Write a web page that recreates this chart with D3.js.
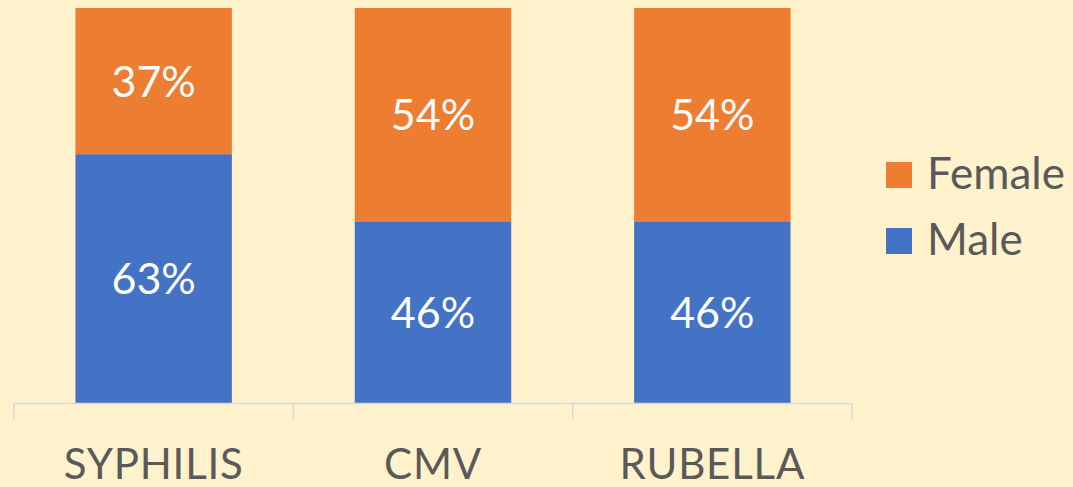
<!DOCTYPE html>
<html>
<head>
<meta charset="utf-8">
<script src="https://cdn.jsdelivr.net/npm/d3@7"></script>
<style>
  body { margin: 0; background: #FFF2CC; }
  svg { display: block; }
  text { font-family: "Lato", "Open Sans", sans-serif; }
</style>
</head>
<body>
<svg id="chart" width="1073" height="487"></svg>
<script>
// data
var categories = ["SYPHILIS", "CMV", "RUBELLA"];
var series = ["Male", "Female"];
var male = [63, 46, 46];
var female = [37, 54, 54];
var legendOrder = ["Female", "Male"];

var colors = { Male: "#4472C4", Female: "#ED7D31" };

var svg = d3.select("#chart");

var x = d3.scaleBand().domain(categories).range([14, 852]).paddingInner(0.44).paddingOuter(0.22);
var y = d3.scaleLinear().domain([0, 100]).range([403, 8]);

var rows = categories.map(function(c, i) { return { cat: c, Male: male[i], Female: female[i] }; });
var stacked = d3.stack().keys(series)(rows);

var g = svg.append("g");

g.selectAll(".layer")
    .data(stacked)
  .enter().append("g")
    .attr("class", "layer")
    .attr("fill", function(d) { return colors[d.key]; })
  .each(function(layer) {
    var sel = d3.select(this);
    sel.selectAll("rect")
        .data(layer)
      .enter().append("rect")
        .attr("x", function(d) { return x(d.data.cat); })
        .attr("width", x.bandwidth())
        .attr("y", function(d) { return y(d[1]); })
        .attr("height", function(d) { return y(d[0]) - y(d[1]); });
    sel.selectAll("text")
        .data(layer)
      .enter().append("text")
        .attr("x", function(d) { return x(d.data.cat) + x.bandwidth() / 2; })
        .attr("y", function(d) { return (y(d[0]) + y(d[1])) / 2; })
        .attr("dy", "0.36em")
        .attr("text-anchor", "middle")
        .attr("fill", "#fff")
        .style("font-size", "43px")
        .text(function(d) { return (d[1] - d[0]) + "%"; });
  });

// axis
var axis = svg.append("g")
    .attr("transform", "translate(0,403)")
    .call(d3.axisBottom(x).tickSize(0).tickPadding(61));
axis.select(".domain").attr("stroke", "#D9D9D9").attr("stroke-width", 1.5);
axis.selectAll(".tick text")
    .attr("fill", "#595959")
    .style("font-size", "42px")
    .style("letter-spacing", "0.8px")
    .attr("dy", "0.36em");
// category separators
var edges = categories.map(function(c) { return x(c) - x.step() * x.paddingInner() / 2; });
edges.push(x(categories[2]) + x.bandwidth() + x.step() * x.paddingInner() / 2);
axis.selectAll(".sep")
    .data(edges)
  .enter().append("line")
    .attr("class", "sep")
    .attr("x1", function(d) { return d; })
    .attr("x2", function(d) { return d; })
    .attr("y1", 0)
    .attr("y2", 16)
    .attr("stroke", "#D9D9D9")
    .attr("stroke-width", 1.5);

// legend
var legend = svg.append("g").attr("transform", "translate(886,162)");
var item = legend.selectAll(".item")
    .data(legendOrder)
  .enter().append("g")
    .attr("class", "item")
    .attr("transform", function(d, i) { return "translate(0," + (i * 66) + ")"; });
item.append("rect")
    .attr("width", 26)
    .attr("height", 26)
    .attr("fill", function(d) { return colors[d]; });
item.append("text")
    .attr("x", 41)
    .attr("y", 11)
    .attr("dy", "0.36em")
    .attr("fill", "#595959")
    .style("font-size", "44px")
    .text(function(d) { return d; });
</script>
</body>
</html>
